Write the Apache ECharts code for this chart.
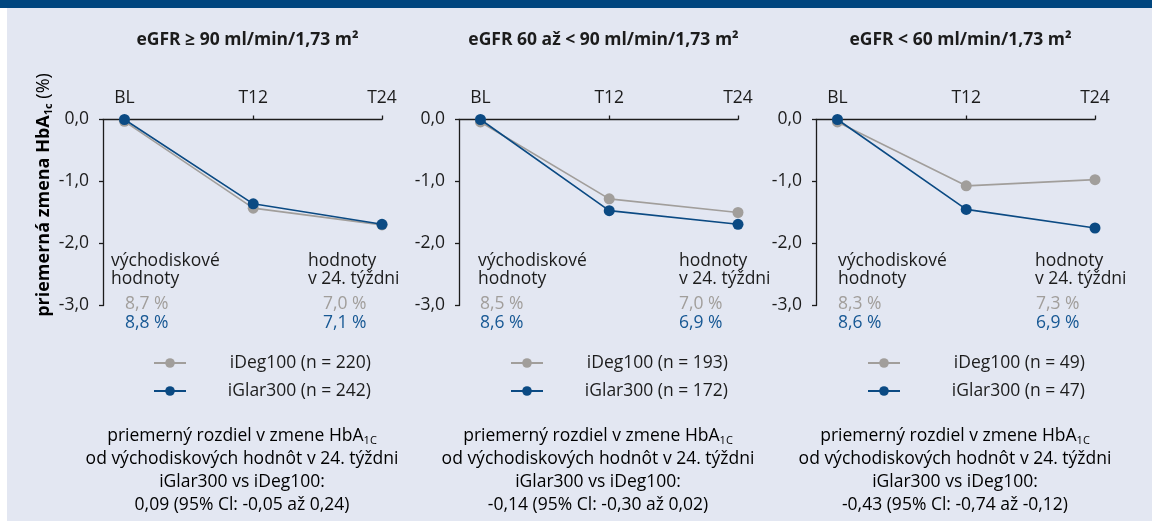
<!DOCTYPE html>
<html>
<head>
<meta charset="utf-8">
<script src="https://cdn.jsdelivr.net/npm/echarts@6/dist/echarts.min.js"></script>
<style>html,body{margin:0;padding:0;background:#fff;}#c{width:1152px;height:521px;}</style>
</head>
<body>
<div id="c"></div>
<script>
// ---- data ----
const weeks = [0, 12, 24];
const timeLabels = ['BL', 'T12', 'T24'];
const panelTitles = ['eGFR ≥ 90 ml/min/1,73 m²', 'eGFR 60 až < 90 ml/min/1,73 m²', 'eGFR < 60 ml/min/1,73 m²'];
const iDegNames = ['iDeg100 (n = 220)', 'iDeg100 (n = 193)', 'iDeg100 (n = 49)'];
const iGlarNames = ['iGlar300 (n = 242)', 'iGlar300 (n = 172)', 'iGlar300 (n = 47)'];
const iDegGfr90 = [-0.03, -1.43, -1.70];
const iDegGfr60to90 = [-0.04, -1.28, -1.50];
const iDegGfr60 = [-0.04, -1.07, -0.97];
const iGlarGfr90 = [0.0, -1.36, -1.69];
const iGlarGfr60to90 = [0.0, -1.47, -1.69];
const iGlarGfr60 = [0.0, -1.45, -1.75];
const baselineDeg = ['8,7 %', '8,5 %', '8,3 %'];
const baselineGlar = ['8,8 %', '8,6 %', '8,6 %'];
const week24Deg = ['7,0 %', '7,0 %', '7,3 %'];
const week24Glar = ['7,1 %', '6,9 %', '6,9 %'];
const diffValues = ['0,09 (95% Cl: -0,05 až 0,24)', '-0,14 (95% Cl: -0,30 až 0,02)', '-0,43 (95% Cl: -0,74 až -0,12)'];

const iDegData = [iDegGfr90, iDegGfr60to90, iDegGfr60];
const iGlarData = [iGlarGfr90, iGlarGfr60to90, iGlarGfr60];

// ---- styling / layout ----
const FONT = '"Open Sans", sans-serif';
const FS = 17.5;
const GRAY = '#a19e9b';
const BLUE = '#0b4a83';
const BLUE_TXT = '#175894';
const INK = '#1c1c1c';
const gridLeft = [103, 459, 816];
const gridW = 279;
const gridTop = 119.5;
const gridH = 186;
const legendLeft = [153, 510, 867];
const leftTextX = [111, 478, 838];
const leftPctX = [125, 480, 838];
const rightTextX = [308, 679, 1035];
const rightPctX = [323, 679, 1036];

const fmtY = v => v.toFixed(1).replace('.', ',');

const grids = [], xAxes = [], yAxes = [], series = [], legends = [], titles = [], graphics = [];

graphics.push({ type: 'rect', shape: { x: 0, y: 0, width: 1152, height: 8 }, style: { fill: '#00467f' }, silent: true });
graphics.push({ type: 'rect', shape: { x: 0, y: 8, width: 7, height: 513 }, style: { fill: '#ffffff' }, silent: true });

for (let p = 0; p < 3; p++) {
  grids.push({ left: gridLeft[p], top: gridTop, width: gridW, height: gridH });
  xAxes.push({
    gridIndex: p, type: 'value', position: 'top', min: -2, max: 24,
    axisLine: { show: true, onZero: false, lineStyle: { color: INK, width: 1.3 } },
    axisTick: { show: true, customValues: [12, 24], length: 4, lineStyle: { color: INK, width: 1.3 } },
    axisLabel: { show: true, customValues: weeks, margin: 12, fontFamily: FONT, fontSize: FS, color: INK,
      formatter: v => timeLabels[weeks.indexOf(v)] },
    splitLine: { show: false }
  });
  yAxes.push({
    gridIndex: p, type: 'value', min: -3, max: 0, interval: 1,
    axisLine: { show: true, onZero: false, lineStyle: { color: INK, width: 1.3 } },
    axisTick: { show: true, length: 4, lineStyle: { color: INK, width: 1.3 } },
    axisLabel: { margin: 14, fontFamily: FONT, fontSize: FS, color: INK, formatter: fmtY },
    splitLine: { show: false }
  });
  series.push({
    name: iDegNames[p], type: 'line', xAxisIndex: p, yAxisIndex: p,
    data: weeks.map((w, i) => [w, iDegData[p][i]]),
    symbol: 'circle', symbolSize: 11, color: GRAY,
    lineStyle: { color: GRAY, width: 1.6 }, itemStyle: { color: GRAY }, z: 2
  });
  series.push({
    name: iGlarNames[p], type: 'line', xAxisIndex: p, yAxisIndex: p,
    data: weeks.map((w, i) => [w, iGlarData[p][i]]),
    symbol: 'circle', symbolSize: 11, color: BLUE,
    lineStyle: { color: BLUE, width: 1.6 }, itemStyle: { color: BLUE }, z: 3
  });
  legends.push({
    data: [iDegNames[p], iGlarNames[p]], orient: 'vertical', left: legendLeft[p], top: 354, padding: 0,
    itemWidth: 32, itemHeight: 12, itemGap: 10, selectedMode: false,
    formatter: name => '{t|' + name + '}',
    textStyle: { rich: { t: { width: 180, align: 'right', fontFamily: FONT, fontSize: FS, color: INK, lineHeight: 18 } } }
  });
  titles.push({
    text: panelTitles[p], left: gridLeft[p] + gridW / 2, top: 26, textAlign: 'center',
    textStyle: { fontFamily: FONT, fontSize: FS, fontWeight: 'bold', color: INK }
  });
  const txt = (text, x, y, color, extra) => Object.assign({
    type: 'text', x: x, y: y, silent: true,
    style: { text: text, fill: color, fontFamily: FONT, fontSize: FS, align: 'left', verticalAlign: 'middle', lineHeight: 18 }
  }, extra || {});
  graphics.push(txt('východiskové\nhodnoty', leftTextX[p], 270, INK));
  graphics.push(txt(baselineDeg[p], leftPctX[p], 304, GRAY));
  graphics.push(txt(baselineGlar[p], leftPctX[p], 322.7, BLUE_TXT));
  graphics.push(txt('hodnoty\nv 24. týždni', rightTextX[p], 270, INK));
  graphics.push(txt(week24Deg[p], rightPctX[p], 304, GRAY));
  graphics.push(txt(week24Glar[p], rightPctX[p], 322.7, BLUE_TXT));
  graphics.push({
    type: 'text', x: gridLeft[p] + gridW / 2 - 0.5, y: 471, silent: true,
    style: {
      text: '{n|priemerný rozdiel v zmene HbA}{s|1C}\n{n|od východiskových hodnôt v 24. týždni}\n{n|iGlar300 vs iDeg100:}\n{n|' + diffValues[p] + '}',
      align: 'center', verticalAlign: 'middle',
      rich: {
        n: { fontFamily: FONT, fontSize: FS, color: INK, lineHeight: 23 },
        s: { fontFamily: FONT, fontSize: 11, color: INK, lineHeight: 23, padding: [9, 0, 0, 0] }
      }
    }
  });
}

graphics.push({
  type: 'text', x: 44, y: 195, rotation: Math.PI / 2, silent: true,
  style: {
    text: '{b|priemerná zmena HbA}{s|1c}{n| (%)}', align: 'center', verticalAlign: 'middle',
    rich: {
      b: { fontFamily: FONT, fontSize: 18, fontWeight: 'bold', color: INK, lineHeight: 22 },
      s: { fontFamily: FONT, fontSize: 11, fontWeight: 'bold', color: INK, lineHeight: 22, padding: [9, 0, 0, 0] },
      n: { fontFamily: FONT, fontSize: 18, color: INK, lineHeight: 22 }
    }
  }
});

const chart = echarts.init(document.getElementById('c'), null, { renderer: 'canvas' });
chart.setOption({
  backgroundColor: '#e3e7f2',
  animation: false,
  title: titles,
  grid: grids,
  xAxis: xAxes,
  yAxis: yAxes,
  legend: legends,
  series: series,
  graphic: graphics
});
</script>
</body>
</html>
